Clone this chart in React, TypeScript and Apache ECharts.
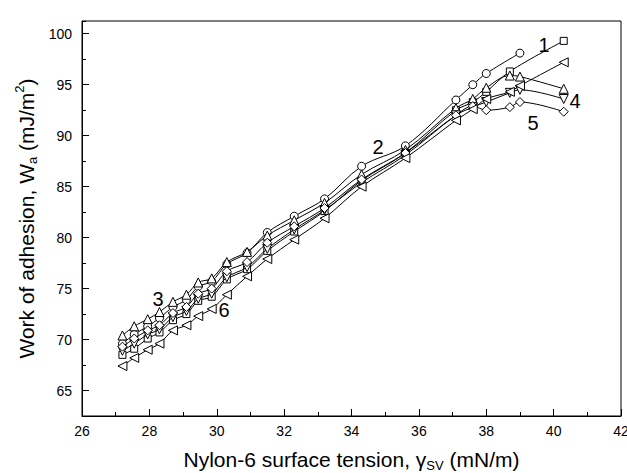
import React, { useEffect, useRef } from "react";
import * as echarts from "echarts";

// Nylon-6 surface tension (mN/m) — shared abscissa
const X = [27.2, 27.55, 27.95, 28.3, 28.7, 29.1, 29.45, 29.85, 30.3, 30.9, 31.5, 32.3, 33.2, 34.3, 35.6, 37.1, 37.6, 38.0, 38.7, 39.0, 40.3];

// Work of adhesion (mJ/m^2) per curve
const S1 = [68.5, 69.1, 70.1, 70.7, 71.9, 72.5, 73.8, 74.2, 75.9, 76.9, 78.7, 80.6, 82.6, 85.6, 88.3, 92.5, 93.3, 94.3, 96.3, null, 99.3];
const S2 = [69.6, 70.5, 71.3, 72.1, 73.2, 73.9, 75.2, 75.7, 77.4, 78.5, 80.5, 82.1, 83.8, 87.0, 89.0, 93.5, 95.0, 96.1, null, 98.1, null];
const S3 = [70.4, 71.3, 72.0, 72.7, 73.7, 74.4, 75.6, 76.0, 77.6, 78.6, 80.2, 81.7, 83.4, 86.2, 88.6, 92.7, 93.6, 94.7, 95.9, 95.8, 94.6];
const S4 = [68.9, 69.6, 70.5, 71.0, 72.2, 72.8, 74.0, 74.5, 76.1, 77.1, 78.9, 80.8, 82.7, 85.4, 88.1, 92.0, 92.8, 93.3, 94.2, 94.5, 93.6];
const S5 = [69.3, 70.1, 70.9, 71.4, 72.6, 73.2, 74.5, 75.0, 76.7, 77.6, 79.5, 81.1, 82.9, 85.7, 88.3, 92.0, 92.9, 92.5, 92.8, 93.3, 92.35];
const S6 = [67.4, 68.2, 69.0, 69.6, 70.9, 71.4, 72.3, 73.0, 74.4, 76.2, 77.9, 79.8, 81.9, 85.0, 87.8, 91.5, 92.6, 93.6, 94.3, 94.9, 97.2];

const SERIES_NAMES = ["1", "2", "3", "4", "5", "6"];
const SERIES_VALUES = [S1, S2, S3, S4, S5, S6];

const X_MIN = 26, X_MAX = 42, X_INTERVAL = 2;
const Y_MIN = 62.5, Y_MAX = 101.25, Y_MINOR = 2.5, Y_MAJOR_START = 65, Y_MAJOR = 5;

const FONT = "'Liberation Sans', Arial, sans-serif";

export default function App() {
  const ref = useRef<HTMLDivElement>(null);

  useEffect(() => {
    if (!ref.current) return;
    const chart = echarts.init(ref.current, null, { renderer: "svg" });
    const H = 473;
    const grid = { left: 82, right: 6, top: 21, bottom: 57 };
    const plotH = H - grid.top - grid.bottom;
    const shift = ((Y_MAJOR_START - Y_MIN) * plotH) / (Y_MAX - Y_MIN);

    const symbols: any[] = [
      { symbol: "rect", size: 7, rotate: 0 },
      { symbol: "circle", size: 8, rotate: 0 },
      { symbol: "triangle", size: 9, rotate: 0 },
      { symbol: "triangle", size: 9, rotate: 180 },
      { symbol: "diamond", size: 9, rotate: 0 },
      { symbol: "triangle", size: 9, rotate: 90 },
    ];

    const series = SERIES_VALUES.map((vals, k) => ({
      name: SERIES_NAMES[k],
      type: "line",
      xAxisIndex: 0,
      yAxisIndex: 0,
      smooth: 0.35,
      connectNulls: true,
      data: X.map((x, i) => [x, vals[i]]).filter((d) => d[1] != null),
      symbol: symbols[k].symbol,
      symbolSize: symbols[k].size,
      symbolRotate: symbols[k].rotate,
      showAllSymbol: true,
      lineStyle: { color: "#000", width: 1 },
      itemStyle: { color: "#fff", borderColor: "#000", borderWidth: 1 },
      z: 2 + k,
    }));

    const labelPos: [string, number, number][] = [
      ["1", 544, 45],
      ["2", 378, 147],
      ["3", 158, 299],
      ["4", 575, 101],
      ["5", 533, 123],
      ["6", 224, 310],
    ];

    chart.setOption({
      animation: false,
      backgroundColor: "#fff",
      textStyle: { fontFamily: FONT, color: "#000" },
      grid: [
        {
          ...grid,
          show: true,
          borderColor: "#000",
          borderWidth: 1,
          backgroundColor: "transparent",
          containLabel: false,
          outerBoundsMode: "none",
        },
        {
          left: grid.left,
          right: grid.right,
          top: grid.top,
          bottom: grid.bottom + shift,
          show: false,
          containLabel: false,
          outerBoundsMode: "none",
        },
      ],
      xAxis: [
        {
          type: "value",
          gridIndex: 0,
          min: X_MIN,
          max: X_MAX,
          interval: X_INTERVAL,
          axisLine: { show: true, lineStyle: { color: "#000", width: 1 } },
          axisTick: { show: true, inside: true, length: 7, lineStyle: { color: "#000" } },
          minorTick: { show: true, splitNumber: 2, length: 4, lineStyle: { color: "#000" } },
          axisLabel: { color: "#000", fontSize: 14, margin: 8, fontFamily: FONT },
          splitLine: { show: false },
          name: "Nylon-6 surface tension, γ{sub|SV} (mN/m)",
          nameLocation: "middle",
          nameGap: 30,
          nameTextStyle: {
            fontSize: 21,
            color: "#000",
            fontFamily: FONT,
            lineHeight: 26,
            rich: {
              sub: { fontSize: 13, verticalAlign: "bottom", lineHeight: 14, fontFamily: FONT, color: "#000" },
            },
          },
        },
        {
          type: "value",
          gridIndex: 1,
          min: X_MIN,
          max: X_MAX,
          show: false,
        },
      ],
      yAxis: [
        {
          type: "value",
          gridIndex: 0,
          min: Y_MIN,
          max: Y_MAX,
          interval: Y_MINOR,
          axisLine: { show: true, lineStyle: { color: "#000", width: 1 } },
          axisTick: { show: true, inside: true, length: 4, lineStyle: { color: "#000" } },
          axisLabel: { show: false },
          splitLine: { show: false },
          name: "Work of adhesion, W{sub|a} (mJ/m{sup|2})",
          nameLocation: "middle",
          nameGap: 43,
          nameRotate: 90,
          nameTextStyle: {
            fontSize: 21,
            color: "#000",
            fontFamily: FONT,
            lineHeight: 26,
            rich: {
              sub: { fontSize: 13, verticalAlign: "bottom", lineHeight: 14, fontFamily: FONT, color: "#000" },
              sup: { fontSize: 13, verticalAlign: "top", lineHeight: 14, fontFamily: FONT, color: "#000" },
            },
          },
        },
        {
          type: "value",
          gridIndex: 1,
          min: Y_MAJOR_START,
          max: Y_MAX,
          interval: Y_MAJOR,
          axisLine: { show: false },
          axisTick: { show: true, inside: true, length: 7, lineStyle: { color: "#000" } },
          axisLabel: { color: "#000", fontSize: 14, margin: 10, fontFamily: FONT, showMaxLabel: false },
          splitLine: { show: false },
        },
      ],
      series,
      graphic: labelPos.map(([t, x, y]) => ({
        type: "text",
        x,
        y,
        z: 100,
        style: {
          text: t,
          fontSize: 20,
          fontFamily: FONT,
          fill: "#000",
          textAlign: "center",
          textVerticalAlign: "middle",
        },
      })),
    });

    return () => chart.dispose();
  }, []);

  return (
    <div
      ref={ref}
      style={{ position: "fixed", left: 0, top: 0, width: 627, height: 473, background: "#fff" }}
    />
  );
}
